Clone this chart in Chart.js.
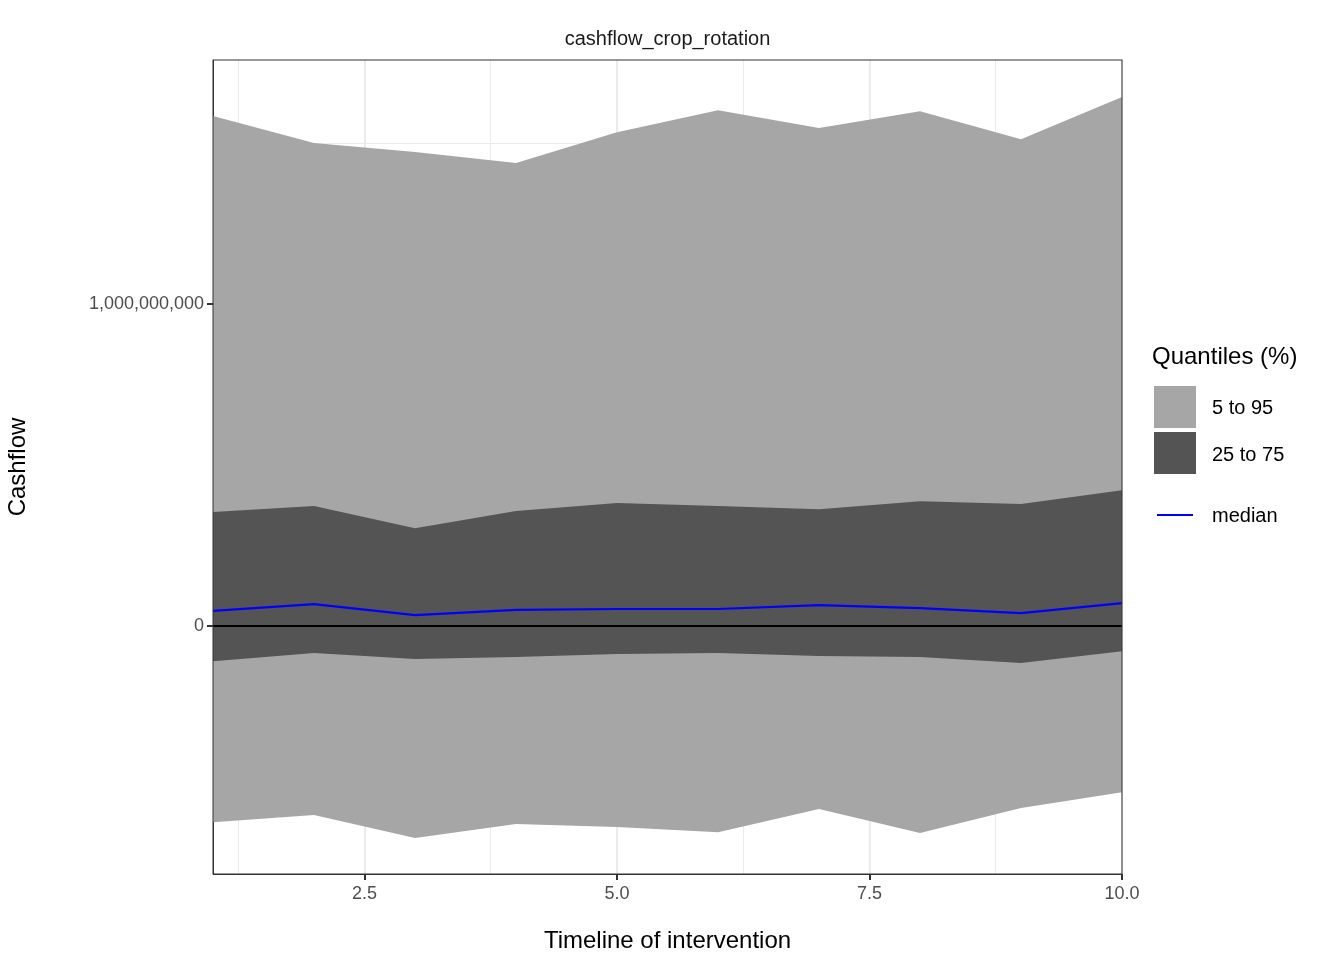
<!DOCTYPE html>
<html><head><meta charset="utf-8">
<script src="https://cdn.jsdelivr.net/npm/chart.js@4"></script>
<style>
body{margin:0;background:#fff;font-family:"Liberation Sans",Arial,sans-serif;}
#wrap{position:relative;width:1344px;height:960px;}
.t{position:absolute;color:#000;}
.sw{position:absolute;width:42px;height:42px;}
</style></head><body>
<div id="wrap">
<canvas id="c" width="1344" height="960"></canvas>
<div class="t" style="left:213px;width:909px;top:27px;text-align:center;font-size:20px;color:#1a1a1a">cashflow_crop_rotation</div>
<div class="t" style="left:1152px;top:342px;font-size:24px">Quantiles (%)</div>
<div class="sw" style="left:1154px;top:386px;background:#a6a6a6"></div>
<div class="sw" style="left:1154px;top:432px;background:#545454"></div>
<div style="position:absolute;left:1157px;top:514px;width:36px;height:2px;background:#0000ff"></div>
<div class="t" style="left:1212px;top:396px;font-size:20px">5 to 95</div>
<div class="t" style="left:1212px;top:443px;font-size:20px">25 to 75</div>
<div class="t" style="left:1212px;top:504px;font-size:20px">median</div>
</div>
<script>
const years=[1,2,3,4,5,6,7,8,9,10];
const p5=[-0.609,-0.587,-0.658,-0.615,-0.624,-0.640,-0.568,-0.643,-0.565,-0.516].map(v=>v*1e9);
const p95=[1.584,1.500,1.472,1.438,1.534,1.602,1.547,1.599,1.512,1.643].map(v=>v*1e9);
const p25=[-0.109,-0.084,-0.102,-0.096,-0.087,-0.084,-0.093,-0.096,-0.115,-0.078].map(v=>v*1e9);
const p75=[0.354,0.373,0.304,0.357,0.382,0.373,0.363,0.388,0.379,0.422].map(v=>v*1e9);
const median=[0.047,0.068,0.034,0.050,0.053,0.053,0.065,0.056,0.040,0.071].map(v=>v*1e9);
const xTicks=[1.25,2.5,3.75,5,6.25,7.5,8.75,10];
const xLabels=[2.5,5,7.5,10];
const yTicks=[-0.5e9,0,0.5e9,1e9,1.5e9];
const yLabels=[0,1e9];
const pts=a=>a.map((v,i)=>({x:years[i],y:v}));
const base={pointRadius:0,borderWidth:0,tension:0};
new Chart(document.getElementById('c'),{type:'line',
data:{datasets:[
{...base,data:pts(p95),fill:1,backgroundColor:'#a6a6a6',order:4},
{...base,data:pts(p5),fill:false,order:4},
{...base,data:pts(p75),fill:3,backgroundColor:'#545454',order:3},
{...base,data:pts(p25),fill:false,order:3},
{...base,data:pts(years.map(()=>0)),borderWidth:2,borderColor:'#000',fill:false,order:2},
{...base,data:pts(median),borderWidth:2.2,borderColor:'#0000ff',fill:false,order:1}
]},
options:{responsive:false,animation:false,events:[],
layout:{padding:{left:0,right:222,top:60,bottom:0}},
plugins:{legend:{display:false},tooltip:{enabled:false}},
scales:{
x:{type:'linear',min:1,max:10,
afterBuildTicks:s=>{s.ticks=xTicks.map(v=>({value:v}));},
afterFit:s=>{s.height=86;},
ticks:{autoSkip:false,maxRotation:0,color:'#4d4d4d',font:{size:18,family:'Liberation Sans'},
callback:v=>xLabels.includes(v)?v.toFixed(1):''},
grid:{color:'#ebebeb',lineWidth:c=>xLabels.includes(c.tick&&c.tick.value)?2:1,tickColor:c=>xLabels.includes(c.tick&&c.tick.value)?'#333':'rgba(0,0,0,0)',tickLength:6},
border:{color:'#333',width:1},
title:{display:true,text:'Timeline of intervention',color:'#000',font:{size:24,family:'Liberation Sans'},padding:{top:4}}},
y:{min:-0.77e9,max:1.758e9,
afterBuildTicks:s=>{s.ticks=yTicks.map(v=>({value:v}));},
afterFit:s=>{s.width=213;},
ticks:{autoSkip:false,color:'#4d4d4d',font:{size:18,family:'Liberation Sans'},
callback:v=>yLabels.includes(v)?v.toLocaleString('en-US'):''},
grid:{color:'#ebebeb',lineWidth:c=>yLabels.includes(c.tick&&c.tick.value)?2:1,tickColor:c=>yLabels.includes(c.tick&&c.tick.value)?'#333':'rgba(0,0,0,0)',tickLength:6},
border:{color:'#333',width:1},
title:{display:true,text:'Cashflow',color:'#000',font:{size:24,family:'Liberation Sans'},padding:{bottom:8}}}
}},
plugins:[{id:'frame',afterDraw(ch){const a=ch.chartArea,c=ch.ctx;c.save();c.strokeStyle='#333';c.lineWidth=1;c.strokeRect(a.left,a.top,a.right-a.left,a.bottom-a.top);c.restore();}}]
});
</script></body></html>
